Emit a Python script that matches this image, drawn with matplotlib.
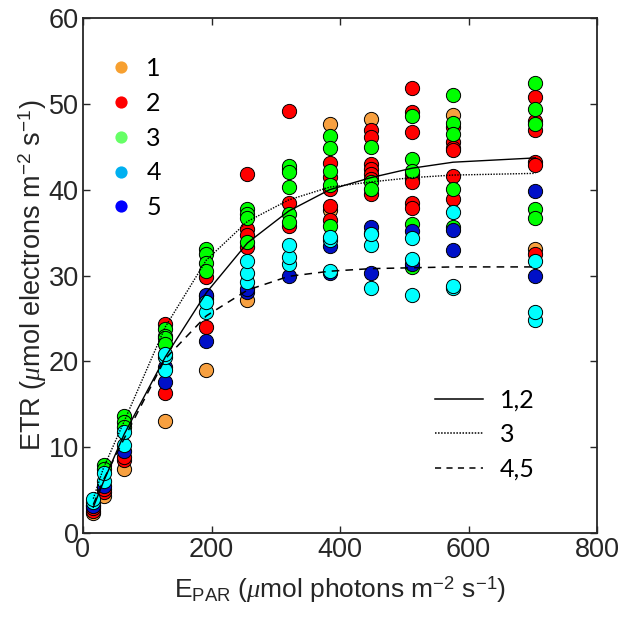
import numpy as np
import matplotlib
matplotlib.use("Agg")
import matplotlib.pyplot as plt
from matplotlib.lines import Line2D

plt.rcParams['font.family'] = ['Liberation Sans', 'DejaVu Sans']
plt.rcParams['mathtext.fontset'] = 'custom'
plt.rcParams['mathtext.rm'] = 'Liberation Sans'
plt.rcParams['mathtext.it'] = 'Liberation Serif:italic'

# light levels (umol photons m-2 s-1)
par = [16, 32, 64, 128, 192, 256, 320, 384, 448, 512, 576, 704]

# ETR replicates per light level, one list per group
etr_1 = [[2.3], [4.3], [7.5], [13.1], [19.0], [27.2], [], [47.6, 37.6],
         [48.2], [], [48.7], [33.1]]
etr_2 = [[2.6, 2.9], [4.8, 5.1], [8.5, 8.9], [16.3, 24.4], [24.0, 29.8, 27.6],
         [41.8, 35.4, 34.7, 33.3], [49.2, 42.4, 38.5, 35.8],
         [43.1, 41.5, 40.1, 38.1, 36.5],
         [46.9, 46.1, 43.0, 42.4, 41.8, 41.2, 39.5],
         [51.8, 49.0, 46.7, 41.8, 41.2, 40.9, 38.5, 37.9],
         [47.3, 45.5, 44.9, 44.6, 41.6, 38.9],
         [50.8, 48.0, 46.9, 43.2, 42.9, 32.5]]
etr_3 = [[3.3], [7.9, 7.4], [13.6, 12.9, 12.3], [23.8, 23.0, 22.7, 22.0],
         [33.1, 32.5, 31.4, 30.5, 27.3], [37.8, 37.2, 36.7, 33.9],
         [42.8, 42.1, 40.3, 37.2, 36.2], [46.3, 44.9, 42.2, 40.5, 35.8],
         [45.0, 40.9, 40.1, 35.0], [48.6, 43.6, 42.2, 36.0, 31.0],
         [51.0, 47.8, 46.5, 40.1, 35.6], [52.4, 49.4, 47.6, 37.8, 36.7]]
etr_4 = [[3.6, 4.0], [6.1, 7.0], [10.2, 11.8], [19.0, 20.5, 20.9], [25.7, 26.9],
         [29.2, 30.3, 31.7], [31.3, 32.1, 33.5], [30.5, 34.1, 34.5],
         [28.6, 33.5, 34.8], [27.7, 31.9, 34.4], [28.5, 28.8, 37.4],
         [24.8, 25.7, 31.7]]
etr_5 = [[3.1], [5.5], [9.6], [17.6, 19.3], [22.4, 27.7], [28.1, 28.4], [30.0],
         [30.3, 33.4], [30.3, 35.7], [31.3, 35.2], [33.0, 35.3], [29.9, 39.9]]

# fitted light curves
fit_12 = [3.0, 6.0, 11.5, 20.5, 28.0, 33.8, 37.5, 40.0, 41.4, 42.5, 43.2, 43.7]
fit_3 = [4.0, 7.6, 13.0, 24.0, 31.8, 36.3, 38.8, 40.3, 40.9, 41.4, 41.7, 41.9]
fit_45 = [3.3, 6.2, 11.0, 20.3, 25.3, 28.3, 29.9, 30.5, 30.8, 30.9, 31.0, 31.0]

group_labels = ['1', '2', '3', '4', '5']
marker_colors = ['#F7A040', '#FF0000', '#00FF00', '#00FFFF', '#0010C8']
legend_colors = ['#F7A030', '#FF0000', '#66FF66', '#00B0F0', '#0000FF']

fig = plt.figure(figsize=(6.23, 6.17), dpi=100)
ax = fig.add_axes([83 / 623, 84 / 617, 514 / 623, 515 / 617])

groups = [etr_1, etr_2, etr_3, etr_4, etr_5]
# draw order: 1, 2, 3, 5, 4
for gi in [0, 1, 2, 4, 3]:
    xs, ys = [], []
    for x, vals in zip(par, groups[gi]):
        xs += [x] * len(vals)
        ys += vals
    ax.scatter(xs, ys, s=105, c=marker_colors[gi], edgecolors='black',
               linewidths=0.7, zorder=3)

ax.plot(par, fit_12, color='black', lw=1.0, ls='-', zorder=4)
ax.plot(par, fit_3, color='black', lw=1.0, ls=(0, (1, 1)), zorder=4)
ax.plot(par, fit_45, color='black', lw=1.1, ls=(0, (5, 4)), zorder=4)

ax.set_xlim(0, 800)
ax.set_ylim(0, 60)
ax.set_xticks([0, 200, 400, 600, 800])
ax.set_yticks([0, 10, 20, 30, 40, 50, 60])

gray = '#262626'
for s in ax.spines.values():
    s.set_color(gray)
    s.set_linewidth(1.3)
ax.tick_params(direction='in', length=5, width=1.0, colors=gray,
               labelsize=19.5, top=True, right=True, pad=3)

ax.set_xlabel(r'E$_{\mathregular{PAR}}$ ($\mu$mol photons m$^{\mathregular{-2}}$ s$^{\mathregular{-1}}$)',
              fontsize=19, color=gray, labelpad=8)
ax.set_ylabel(r'ETR ($\mu$mol electrons m$^{\mathregular{-2}}$ s$^{\mathregular{-1}}$)',
              fontsize=19.5, color=gray, labelpad=0)

# group legend (colours)
h1 = [Line2D([], [], ls='none', marker='o', markersize=8.8,
             markerfacecolor=c, markeredgecolor='none') for c in legend_colors]
leg1 = ax.legend(h1, group_labels, loc='upper left', bbox_to_anchor=(0.0525, 0.924),
                 frameon=False, borderpad=0, borderaxespad=0, handlelength=0.89,
                 handletextpad=0.56, labelspacing=0.47,
                 prop={'family': 'Lato', 'size': 18})
ax.add_artist(leg1)

# fit legend (line styles)
h2 = [Line2D([], [], color='black', lw=1.1, ls='-'),
      Line2D([], [], color='black', lw=1.1, ls=(0, (1, 1))),
      Line2D([], [], color='black', lw=1.1, ls=(0, (4, 3.5)))]
ax.legend(h2, ['1,2', '3', '4,5'], loc='upper left', bbox_to_anchor=(0.685, 0.280),
          frameon=False, borderpad=0, borderaxespad=0, handlelength=1.92,
          handletextpad=0.68, labelspacing=0.45,
          prop={'family': 'Lato', 'size': 18})

fig.savefig('out.png', dpi=100)
